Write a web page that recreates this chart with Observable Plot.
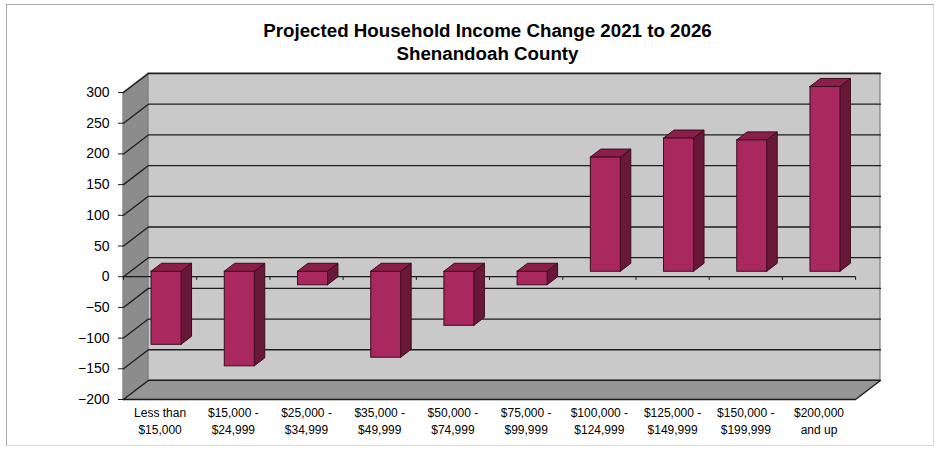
<!DOCTYPE html>
<html>
<head>
<meta charset="utf-8">
<script src="https://cdn.jsdelivr.net/npm/d3@7"></script>
<script src="https://cdn.jsdelivr.net/npm/@observablehq/plot@0.6"></script>
<style>
  html, body { margin: 0; padding: 0; background: #fff; }
  #wrap { position: relative; width: 940px; height: 455px; overflow: hidden; font-family: "Liberation Sans", Arial, sans-serif; }
  #frame { position: absolute; left: 6px; top: 4px; width: 928px; height: 442px; border: 1px solid #a8a8a8; border-right-color: #d8d8d8; border-bottom-color: #d8d8d8; box-sizing: border-box; }
  #title { position: absolute; left: 0; top: 20px; width: 975px; text-align: center; font-weight: bold; font-size: 17.5px; line-height: 23px; color: #000; transform: scaleX(1.07); transform-origin: 487.5px 0; }
  #chart { position: absolute; left: 0; top: 0; }
</style>
</head>
<body>
<div id="wrap">
  <div id="frame"></div>
  <div id="chart"></div>
  <div id="title">Projected Household Income Change 2021 to 2026<br>Shenandoah County</div>
</div>
<script>
// ---- data ----
const categories = [
  "Less than\n$15,000",
  "$15,000 -\n$24,999",
  "$25,000 -\n$34,999",
  "$35,000 -\n$49,999",
  "$50,000 -\n$74,999",
  "$75,000 -\n$99,999",
  "$100,000 -\n$124,999",
  "$125,000 -\n$149,999",
  "$150,000 -\n$199,999",
  "$200,000\nand up"
];
const values = [-119, -154, -22, -140, -88, -22, 186, 217, 214, 301];
const yTicks = [-200, -150, -100, -50, 0, 50, 100, 150, 200, 250, 300];

// ---- 3D look (style constants, in scale units) ----
const WDX = 0.34, WDY = 31;          // wall depth offset
const BAR_OFF = 0.26, BAR_DEPTH = 0.42, BAR_W = 0.41;
const n = categories.length;
const yMin = yTicks[0], yMax = yTicks[yTicks.length - 1];

const bars = values.map((v, i) => {
  const x1 = i + 0.5 - BAR_W / 2 + BAR_OFF * WDX;
  const x2 = x1 + BAR_W;
  const oy = BAR_OFF * WDY;
  return {i, v, x1, x2, y1: oy, y2: v + oy, lo: Math.min(0, v) + oy, hi: Math.max(0, v) + oy};
});
const ddx = BAR_DEPTH * WDX, ddy = BAR_DEPTH * WDY;
const sideFaces = bars.flatMap(b => [
  {i: b.i, x: b.x2, y1: b.lo, y2: b.hi},
  {i: b.i, x: b.x2 + ddx, y1: b.lo + ddy, y2: b.hi + ddy}
]);
const topFaces = bars.flatMap(b => [
  {i: b.i, y: b.hi, x1: b.x1, x2: b.x2},
  {i: b.i, y: b.hi + ddy, x1: b.x1 + ddx, x2: b.x2 + ddx}
]);
const grid = yTicks.flatMap(t => [
  {t, x: 0, y: t}, {t, x: WDX, y: t + WDY}, {t, x: n + WDX, y: t + WDY}
]);
const leftWall = [
  {x: 0, y1: yMin, y2: yMax}, {x: WDX, y1: yMin + WDY, y2: yMax + WDY}
];
const floor = [
  {y: yMin, x1: 0, x2: n}, {y: yMin + WDY, x1: WDX, x2: n + WDX}
];
const floorEdge = [{x: 0, y: yMin}, {x: n, y: yMin}, {x: n + WDX, y: yMin + WDY}];
const boundaries = d3.range(n + 1);

const cFront = "#a8285f", cSide = "#6a1838", cTop = "#8a2049", cEdge = "#3a0c1f";

const chart = Plot.plot({
  width: 940,
  height: 455,
  marginLeft: 123,
  marginRight: 60,
  marginTop: 73,
  marginBottom: 56,
  style: {fontFamily: "'Liberation Sans', Arial, sans-serif", background: "transparent", color: "#000"},
  x: {domain: [0, n + WDX], axis: null},
  y: {domain: [yMin, yMax + WDY], axis: null},
  marks: [
    // back wall
    Plot.rect([0], {x1: WDX, x2: n + WDX, y1: yMin + WDY, y2: yMax + WDY, fill: "#c9c9c9", stroke: "#6a6a6a", strokeWidth: 1}),
    // left wall
    Plot.areaY(leftWall, {x: "x", y1: "y1", y2: "y2", fill: "#8c8c8c", stroke: "#777", strokeWidth: 0.8}),
    // floor
    Plot.areaX(floor, {y: "y", x1: "x1", x2: "x2", fill: "#959595", stroke: "#777", strokeWidth: 0.8}),
    // gridlines on walls
    Plot.line(grid, {x: "x", y: "y", z: "t", stroke: "#1e1e1e", strokeWidth: 1.3}),
    // floor front edge
    Plot.line(floorEdge, {x: "x", y: "y", stroke: "#1a1a1a", strokeWidth: 1.3}),
    // zero axis in the front plane
    Plot.ruleY([0], {x1: 0, x2: n, stroke: "#1a1a1a", strokeWidth: 1.2}),
    Plot.ruleX(boundaries, {y1: 0, y2: -6, stroke: "#1a1a1a", strokeWidth: 1}),
    // bars
    Plot.areaY(sideFaces, {x: "x", y1: "y1", y2: "y2", z: "i", fill: cSide, stroke: cEdge, strokeWidth: 1}),
    Plot.areaX(topFaces, {y: "y", x1: "x1", x2: "x2", z: "i", fill: cTop, stroke: cEdge, strokeWidth: 1}),
    Plot.rect(bars, {x1: "x1", x2: "x2", y1: "y1", y2: "y2", fill: cFront, stroke: cEdge, strokeWidth: 1}),
    // y axis
    Plot.axisY({ticks: yTicks, tickSize: 5, tickPadding: 9, fontSize: 14, label: null, stroke: "#1a1a1a"}),
    // x labels
    Plot.text(categories, {x: (d, i) => i + 0.5, y: yMin, text: d => d, dy: 5, lineAnchor: "top", lineHeight: 1.45, fontSize: 12, fill: "#000"})
  ]
});
document.getElementById("chart").appendChild(chart);
</script>
</body>
</html>
